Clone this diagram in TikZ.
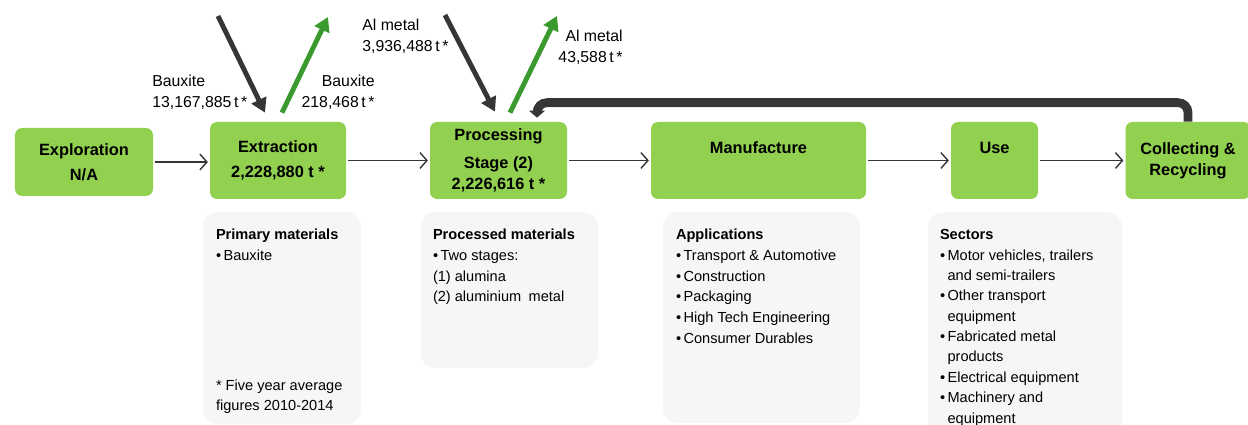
\documentclass[tikz,border=0pt]{standalone}
\usepackage{fontspec}
\setmainfont{Liberation Sans}
\usetikzlibrary{arrows.meta,positioning}
\definecolor{stagegreen}{HTML}{92D050}
\definecolor{panelgrey}{HTML}{F6F6F6}
\definecolor{darkarrow}{HTML}{363636}
\definecolor{flowgreen}{HTML}{3A9A2E}
\newcommand{\itm}{\textbullet\,}
\newcommand{\ind}{\phantom{\textbullet\,}}

\begin{document}
\begin{tikzpicture}[
	stage/.style={fill=stagegreen,rounded corners=4pt,minimum height=1.54cm,align=center,inner sep=0pt,font=\fontsize{9.3}{14.5}\selectfont\bfseries},
	panel/.style={fill=panelgrey,rounded corners=8pt},
	txt/.style={align=left,inner sep=0pt,font=\fontsize{8.3}{11.8}\selectfont},
	lbl/.style={inner sep=0pt,font=\fontsize{9}{12}\selectfont},
	flow/.style={draw=darkarrow,line width=0.8pt,shorten <=1pt,shorten >=1pt,-{Straight Barb[length=4pt,width=9pt]}},
	inflow/.style={draw=darkarrow,line width=2.8pt,-{Triangle[length=8pt,width=9pt]}},
	outflow/.style={draw=flowgreen,line width=2.8pt,-{Triangle[length=8pt,width=9pt]}},
	recyc/.style={draw=darkarrow,line width=5pt,rounded corners=0.2cm,-{Triangle[length=4pt,width=9pt]}}
	]
	\useasboundingbox (0,0) rectangle (24.96,-8.5);
	% life cycle stages
	\node[stage,minimum width=2.76cm,minimum height=1.36cm] (exp) at (1.68,-3.24) {Exploration\\N/A};
	\node[stage,minimum width=2.72cm] (ext) at (5.56,-3.21) {Extraction\\2,228,880 t *};
	\node[stage,minimum width=2.74cm,font=\fontsize{9.3}{12}\selectfont\bfseries] (proc) at (9.97,-3.21) {Processing\\[3.5pt]Stage (2)\\2,226,616 t *};
	\node[stage,minimum width=4.3cm] (man) at (15.17,-3.21) {Manufacture\\\mbox{}};
	\node[stage,minimum width=1.74cm] (use) at (19.89,-3.21) {Use\\\mbox{}};
	\node[stage,minimum width=2.5cm,font=\fontsize{9.3}{12}\selectfont\bfseries] (col) at (23.76,-3.21) {Collecting \&\\Recycling};
	% panels below
	\node[panel,minimum width=3.16cm,minimum height=4.24cm] (p1) at (5.64,-6.36) {};
	\node[panel,minimum width=3.54cm,minimum height=3.12cm] (p2) at (10.19,-5.8) {};
	\node[panel,minimum width=3.94cm,minimum height=4.22cm] (p3) at (15.23,-6.35) {};
	\node[panel,minimum width=3.88cm,minimum height=4.5cm] (p4) at (20.5,-6.5) {};
	\node[txt,below right=0.34cm and 0.26cm of p1.north west] (t1) {\textbf{Primary materials}\\\itm Bauxite};
	\node[txt,above right=0.2cm and 0.26cm of p1.south west] (t1b) {* Five year average\\figures 2010-2014};
	\node[txt,below right=0.34cm and 0.24cm of p2.north west] (t2) {\textbf{Processed materials}\\\itm Two stages:\\(1) alumina\\(2) aluminium\hspace{0.5em}metal};
	\node[txt,below right=0.34cm and 0.26cm of p3.north west] (t3) {\textbf{Applications}\\\itm Transport \& Automotive\\\itm Construction\\\itm Packaging\\\itm High Tech Engineering\\\itm Consumer Durables};
	\node[txt,below right=0.34cm and 0.24cm of p4.north west,font=\fontsize{8.3}{11.6}\selectfont] (t4) {\textbf{Sectors}\\\itm Motor vehicles, trailers\\\ind and semi-trailers\\\itm Other transport\\\ind equipment\\\itm Fabricated metal\\\ind products\\\itm Electrical equipment\\\itm Machinery and\\\ind equipment};
	% flow labels
	\node[lbl,anchor=west,align=left] (l1) at (3.04,-1.84) {Bauxite\\13,167,885\,t\,*};
	\node[lbl,anchor=east,align=right] (l2) at (7.5,-1.84) {Bauxite\\218,468\,t\,*};
	\node[lbl,anchor=west,align=left] (l3) at (7.24,-0.72) {Al metal\\3,936,488\,t\,*};
	\node[lbl,anchor=east,align=right] (l4) at (12.46,-0.94) {Al metal\\43,588\,t\,*};
	\coordinate (bxin) at (4.36,-0.32);
	\coordinate (bxout) at (6.56,-0.34);
	\coordinate (alin) at (8.9,-0.3);
	\coordinate (alout) at (11.14,-0.32);
	% imports and exports
	\draw[inflow] (bxin) -- ([xshift=-0.26cm,yshift=0.18cm]ext.north);
	\draw[outflow] ([xshift=0.08cm,yshift=0.18cm]ext.north) -- (bxout);
	\draw[inflow] (alin) -- ([xshift=-0.07cm,yshift=0.2cm]proc.north);
	\draw[outflow] ([xshift=0.23cm,yshift=0.18cm]proc.north) -- (alout);
	% main chain
	\draw[flow] (exp.east) -- (exp.east -| ext.west);
	\draw[flow] (ext) -- (proc);
	\draw[flow] (proc) -- (man);
	\draw[flow] (man) -- (use);
	\draw[flow] (use) -- (col);
	\draw[recyc] (col.north) -- ++(0,0.38) -| ([xshift=0.77cm,yshift=0.08cm]proc.north);
\end{tikzpicture}
\end{document}
